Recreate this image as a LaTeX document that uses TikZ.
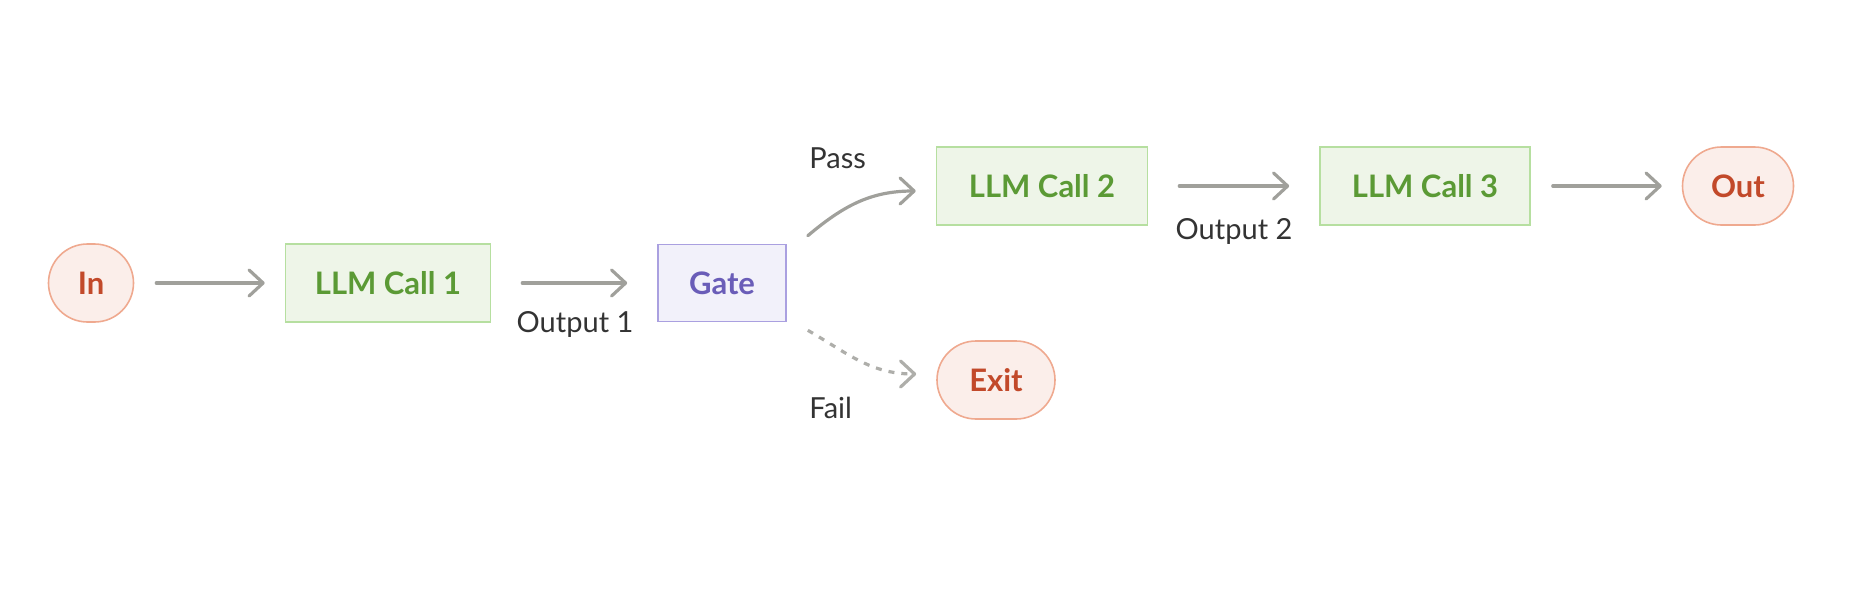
\documentclass[tikz,border=0pt]{standalone}
\usepackage{fontspec}
\setmainfont{Lato}
\usepackage{xcolor}
\usetikzlibrary{arrows.meta, positioning}

\definecolor{termfill}{HTML}{FBEEEA}
\definecolor{termline}{HTML}{EFA98F}
\definecolor{termtext}{HTML}{C2492A}
\definecolor{callfill}{HTML}{EEF5E8}
\definecolor{callline}{HTML}{B6DFA0}
\definecolor{calltext}{HTML}{5B9A35}
\definecolor{gatefill}{HTML}{F2F1FA}
\definecolor{gateline}{HTML}{AAA0E0}
\definecolor{gatetext}{HTML}{6A5DB8}
\definecolor{arrowgray}{HTML}{A0A09B}
\definecolor{labeltext}{HTML}{333333}

\begin{document}
\begin{tikzpicture}[
  x=0.5pt, y=0.5pt,
  terminal/.style={
    rectangle,
    draw=termline,
    fill=termfill,
    line width=0.8pt,
    minimum width=#1,
    minimum height=39pt,
    inner sep=0pt,
    rounded corners=19.5pt,
    text=termtext,
    font=\fontsize{15.5}{18}\selectfont\bfseries
  },
  llmcall/.style={
    rectangle,
    draw=callline,
    fill=callfill,
    line width=0.8pt,
    minimum width=#1,
    minimum height=39pt,
    inner sep=0pt,
    text=calltext,
    font=\fontsize{15.5}{18}\selectfont\bfseries
  },
  gatebox/.style={
    rectangle,
    draw=gateline,
    fill=gatefill,
    line width=0.8pt,
    minimum width=64pt,
    minimum height=38.5pt,
    inner sep=0pt,
    text=gatetext,
    font=\fontsize{15.5}{18}\selectfont\bfseries
  },
  flow/.style={
    -{Straight Barb[length=7pt, width=13pt, round]},
    line width=1.6pt,
    line cap=round,
    draw=arrowgray,
    shorten >=10pt,
    shorten <=11pt
  },
  longgap/.style={
    shorten >=15pt,
    shorten <=15.5pt
  },
  dashflow/.style={
    -{Straight Barb[length=7pt, width=13pt, round]},
    line width=1.6pt,
    draw=arrowgray!85,
    dash pattern=on 3pt off 3.5pt
  },
  lbl/.style={
    text=labeltext,
    inner sep=0pt,
    font=\fontsize{14.5}{17}\selectfont
  }
]
\useasboundingbox (0,0) rectangle (1870,-590);

% Main chain of calls
\node[terminal=42.5pt] (in) at (91,-283) {In};
\node[llmcall=102.5pt] (call1) at (388,-283) {LLM Call 1};
\node[gatebox] (gate) at (722,-283) {Gate};
\node[llmcall=105.5pt] (call2) at (1042,-186) {LLM Call 2};
\node[llmcall=105pt] (call3) at (1425,-186) {LLM Call 3};
\node[terminal=55.5pt] (out) at (1738,-186) {Out};
\node[terminal=59pt] (exit) at (996,-380) {Exit};

% Straight connections
\draw[flow] (in) -- (call1);
\draw[flow, longgap] (call1) -- (gate);
\draw[flow, longgap] (call2) -- (call3);
\draw[flow] (call3) -- (out);

% Branches out of the gate
\draw[flow, shorten >=0pt, shorten <=0pt]
  ([xshift=10.5pt, yshift=4pt]gate.north east) to[out=40, in=180]
  ([xshift=-10pt, yshift=-2.5pt]call2.west);
\draw[dashflow]
  ([xshift=10.5pt, yshift=-4pt]gate.south east) to[out=-30, in=180]
  ([xshift=-10pt, yshift=3pt]exit.west);

% Edge labels
\node[lbl, anchor=base] (out1) at (575,-332) {Output 1};
\node[lbl, anchor=base] (out2) at (1234,-239) {Output 2};
\node[lbl, anchor=base west] (pass) at (809,-168) {Pass};
\node[lbl, anchor=base west] (fail) at (809,-418) {Fail};
\end{tikzpicture}
\end{document}
